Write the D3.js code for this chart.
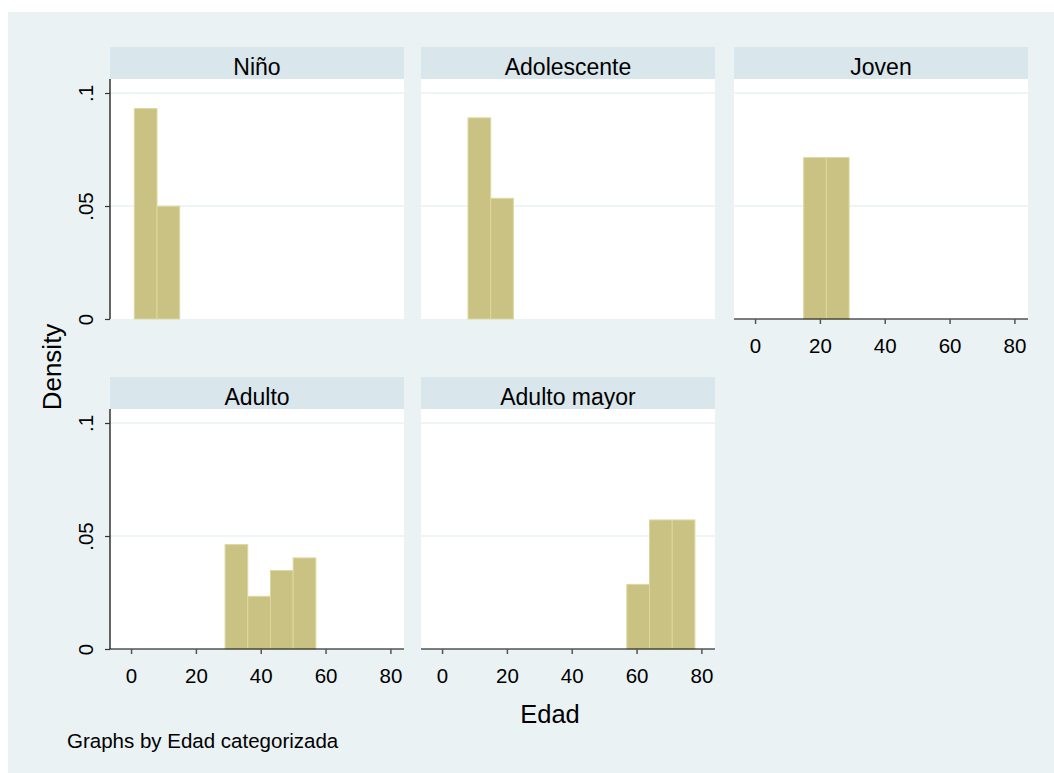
<!DOCTYPE html>
<html>
<head>
<meta charset="utf-8">
<script src="https://cdn.jsdelivr.net/npm/d3@7"></script>
<style>
  html, body { margin: 0; padding: 0; background: #ffffff; }
  svg { display: block; }
  text { font-family: "Liberation Sans", Arial, sans-serif; fill: #000; }
</style>
</head>
<body>
<div id="chart"></div>
<script>
// Age histograms (density), one panel per age category, common bins of width 7 from age 1
const categories = ["Niño", "Adolescente", "Joven", "Adulto", "Adulto mayor"];
const binLower = [1, 8, 15, 22, 29, 36, 43, 50, 57, 64, 71, 78];
const binWidth = 7;
const densNino        = [0.0931, 0.0499, 0, 0, 0, 0, 0, 0, 0, 0, 0, 0];
const densAdolescente = [0, 0.0890, 0.0534, 0, 0, 0, 0, 0, 0, 0, 0, 0];
const densJoven       = [0, 0, 0.0714, 0.0714, 0, 0, 0, 0, 0, 0, 0, 0];
const densAdulto      = [0, 0, 0, 0, 0.0462, 0.0233, 0.0347, 0.0403, 0, 0, 0, 0];
const densAdultoMayor = [0, 0, 0, 0, 0, 0, 0, 0, 0.0286, 0.0571, 0.0571, 0];
const xTicks = [0, 20, 40, 60, 80];
const yTicks = [0, 0.05, 0.1];
const yTickLabels = ["0", ".05", ".1"];

const densities = [densNino, densAdolescente, densJoven, densAdulto, densAdultoMayor];

const W = 1054, H = 773;
const svg = d3.select("#chart").append("svg").attr("width", W).attr("height", H);

// graph region background
svg.append("rect").attr("x", 8).attr("y", 12).attr("width", W - 8).attr("height", H - 12)
  .attr("fill", "#eaf2f3");

const colLeft = [110, 421, 734];
const stripTop = [47, 377];
const stripH = 32;
const plotW = 294, plotH = 240;

const x = d3.scaleLinear().domain([-6.5, 84.2]).range([0, plotW]);
const y = d3.scaleLinear().domain([0, 0.1062]).range([plotH, 0]);

// axes: y on the first column, x on the bottom-most panel of each column
const hasYAxis = i => (i % 3) === 0;
const hasXAxis = i => i >= 2;

const tickFont = 20.5;

categories.forEach((cat, i) => {
  const row = Math.floor(i / 3), col = i % 3;
  const left = colLeft[col];
  const top = stripTop[row] + stripH;

  // strip with category title
  svg.append("rect").attr("x", left).attr("y", stripTop[row]).attr("width", plotW).attr("height", stripH)
    .attr("fill", "#d9e6eb");
  svg.append("text").attr("x", left + plotW / 2).attr("y", stripTop[row] + 27.5)
    .attr("text-anchor", "middle").attr("font-size", 23).text(cat);

  const g = svg.append("g").attr("transform", `translate(${left},${top})`);
  g.append("rect").attr("width", plotW).attr("height", plotH).attr("fill", "#ffffff");

  // horizontal grid lines
  g.selectAll("line.grid").data(yTicks.filter(v => v > 0)).join("line")
    .attr("class", "grid")
    .attr("x1", 0).attr("x2", plotW)
    .attr("y1", d => y(d)).attr("y2", d => y(d))
    .attr("stroke", "#eaf2f3").attr("stroke-width", 1.5);

  // histogram bars
  const bins = binLower.map((lo, k) => ({ lo, hi: lo + binWidth, d: densities[i][k] })).filter(b => b.d > 0);
  g.selectAll("rect.bar").data(bins).join("rect")
    .attr("class", "bar")
    .attr("x", b => x(b.lo)).attr("width", b => x(b.hi) - x(b.lo))
    .attr("y", b => y(b.d)).attr("height", b => y(0) - y(b.d))
    .attr("fill", "#c9c283").attr("stroke", "#ddd79f").attr("stroke-width", 1);

  if (hasYAxis(i)) {
    const ya = d3.axisLeft(y).tickValues(yTicks).tickSize(5).tickPadding(4)
      .tickFormat((d, k) => yTickLabels[k]);
    const ag = g.append("g").call(ya);
    ag.select(".domain").attr("d", `M0,0V${plotH}`).attr("stroke", "#000").attr("stroke-width", 1.2);
    ag.selectAll(".tick line").attr("stroke", "#333").attr("stroke-width", 1.2);
    ag.selectAll(".tick text")
      .attr("font-size", tickFont).attr("font-family", "Liberation Sans, Arial, sans-serif").attr("fill", "#000")
      .attr("x", null).attr("dy", null)
      .attr("text-anchor", "middle")
      .attr("transform", "translate(-17,0) rotate(-90)");
  }

  if (hasXAxis(i)) {
    const xa = d3.axisBottom(x).tickValues(xTicks).tickSize(5).tickPadding(8).tickFormat(d3.format("d"));
    const ag = g.append("g").attr("transform", `translate(0,${plotH})`).call(xa);
    ag.select(".domain").attr("d", `M0,0H${plotW}`).attr("stroke", "#000").attr("stroke-width", 1.2);
    ag.selectAll(".tick line").attr("stroke", "#555").attr("stroke-width", 1.5);
    ag.selectAll(".tick text")
      .attr("font-size", tickFont).attr("font-family", "Liberation Sans, Arial, sans-serif").attr("fill", "#000")
      .attr("dy", null).attr("y", 34);
  }
});

// axis titles and note
svg.append("text").attr("transform", "translate(61,367) rotate(-90)")
  .attr("text-anchor", "middle").attr("font-size", 26).text("Density");
svg.append("text").attr("x", 550).attr("y", 723)
  .attr("text-anchor", "middle").attr("font-size", 25.5).text("Edad");
svg.append("text").attr("x", 67).attr("y", 748)
  .attr("font-size", 20.5).text("Graphs by Edad categorizada");
</script>
</body>
</html>
